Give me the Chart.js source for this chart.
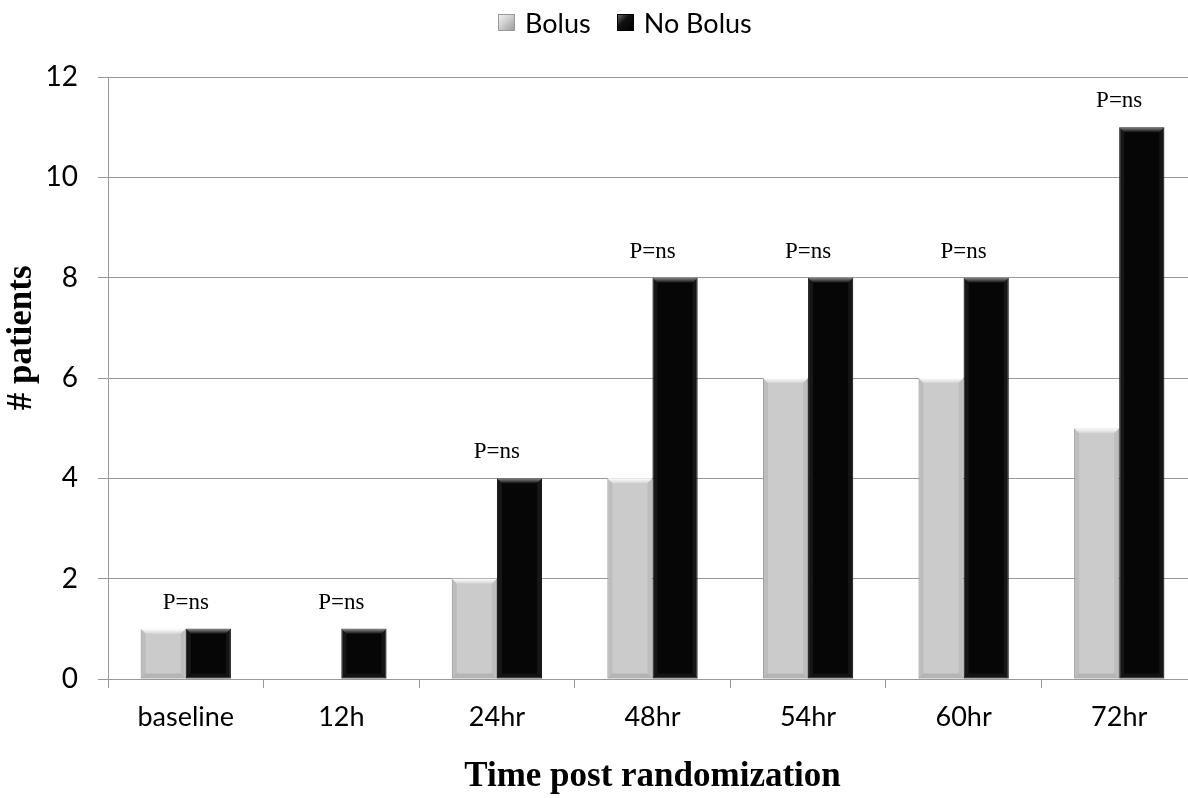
<!DOCTYPE html>
<html>
<head>
<meta charset="utf-8">
<script src="https://cdn.jsdelivr.net/npm/chart.js@4.4.1/dist/chart.umd.min.js"></script>
<style>
  html, body { margin:0; padding:0; background:#fff; overflow:hidden; }
  #wrap { position:relative; width:1200px; height:798px; }
  #legend { position:absolute; top:6px; left:498px; display:flex; align-items:center;
            font-family:Lato, "Open Sans", sans-serif; font-size:27px; color:#000; }
  .item { display:flex; align-items:center; margin-right:26px; }
  .box { width:17px; height:17px; margin-right:10px; box-sizing:border-box; }
  .box.bolus { background:linear-gradient(135deg,#f2f2f2 0%,#cfcfcf 45%,#9c9c9c 100%); border:1px solid #9a9a9a; }
  .box.nobolus { background:linear-gradient(135deg,#666 0%,#111 40%,#000 100%); border:1px solid #000; }
</style>
</head>
<body>
<div id="wrap">
  <div id="legend">
    <div class="item"><span class="box bolus"></span><span>Bolus</span></div>
    <div class="item"><span class="box nobolus"></span><span>No Bolus</span></div>
  </div>
  <canvas id="chart"></canvas>
</div>
<script>
// ========== Data ==========
const timepoints = ['baseline','12h','24hr','48hr','54hr','60hr','72hr'];
const bolus   = [1, 0, 2, 4, 6, 6, 5];
const noBolus = [1, 1, 4, 8, 8, 8, 11];
const pLabels = ['P=ns','P=ns','P=ns','P=ns','P=ns','P=ns','P=ns'];
const yTicks  = [0, 2, 4, 6, 8, 10, 12];
const yTitle  = '# patients';

const sansFont  = 'Lato, "Open Sans", sans-serif';
const serifFont = '"Liberation Serif", "Times New Roman", serif';

// ========== Plugins ==========
// bevel look on the bars (top highlight + soft side shading)
const bevelPlugin = {
  id:'bevel',
  afterDatasetsDraw(chart){
    const ctx = chart.ctx;
    chart.data.datasets.forEach((ds, di) => {
      const meta = chart.getDatasetMeta(di);
      const light = di === 0;
      meta.data.forEach(bar => {
        const h = bar.base - bar.y;
        if (h <= 1) return;
        const l = bar.x - bar.width/2, r = bar.x + bar.width/2, t = bar.y, b = bar.base;
        const d = 5;
        ctx.save();
        // top bevel
        const g = ctx.createLinearGradient(0, t, 0, t + d);
        g.addColorStop(0, light ? '#ffffff' : '#8a8a8a');
        g.addColorStop(1, light ? '#d4d4d4' : '#111111');
        ctx.fillStyle = g;
        ctx.beginPath();
        ctx.moveTo(l, t); ctx.lineTo(r, t); ctx.lineTo(r - d, t + d); ctx.lineTo(l + d, t + d); ctx.closePath();
        ctx.fill();
        // side shades
        ctx.fillStyle = light ? 'rgba(130,130,130,0.18)' : 'rgba(70,70,70,0.25)';
        ctx.beginPath();
        ctx.moveTo(l, t); ctx.lineTo(l + d, t + d); ctx.lineTo(l + d, b - d); ctx.lineTo(l, b); ctx.closePath();
        ctx.fill();
        ctx.beginPath();
        ctx.moveTo(r, t); ctx.lineTo(r - d, t + d); ctx.lineTo(r - d, b - d); ctx.lineTo(r, b); ctx.closePath();
        ctx.fill();
        // bottom bevel
        ctx.fillStyle = light ? 'rgba(110,110,110,0.25)' : 'rgba(50,50,50,0.3)';
        ctx.beginPath();
        ctx.moveTo(l, b); ctx.lineTo(r, b); ctx.lineTo(r - d, b - d); ctx.lineTo(l + d, b - d); ctx.closePath();
        ctx.fill();
        ctx.restore();
      });
    });
  }
};

// "P=ns" over each group, plus the rotated y title
const textPlugin = {
  id:'texts',
  afterDatasetsDraw(chart){
    const ctx = chart.ctx;
    const xs = chart.scales.x, ys = chart.scales.y;
    ctx.save();
    ctx.font = '23px ' + serifFont;
    ctx.fillStyle = '#000';
    ctx.textAlign = 'center';
    ctx.textBaseline = 'middle';
    pLabels.forEach((txt, i) => {
      const top = Math.max(bolus[i], noBolus[i]);
      ctx.fillText(txt, xs.getPixelForValue(i), ys.getPixelForValue(top) - 26);
    });
    // y title, sits a bit above the middle of the axis like the original
    ctx.font = 'bold 35px ' + serifFont;
    ctx.translate(22, ys.getPixelForValue(6.8));
    ctx.rotate(-Math.PI/2);
    ctx.fillText(yTitle, 0, 0);
    ctx.restore();
  }
};

// ========== Chart ==========
const ctx = document.getElementById('chart').getContext('2d');
const chart = new Chart(ctx, {
  type:'bar',
  data:{
    labels: timepoints,
    datasets:[
      { label:'Bolus', data:bolus, backgroundColor:'#cbcbcb', borderColor:'#a0a0a0',
        borderWidth: c => c.raw === 0 ? 0 : 1, borderSkipped:false,
        categoryPercentage:0.58, barPercentage:1 },
      { label:'No Bolus', data:noBolus, backgroundColor:'#060606', borderColor:'#000',
        borderWidth: c => c.raw === 0 ? 0 : 1, borderSkipped:false,
        categoryPercentage:0.58, barPercentage:1 }
    ]
  },
  options:{
    responsive:true, maintainAspectRatio:false, animation:false,
    layout:{ padding:{ top:77, right:3, bottom:0, left:0 } },
    plugins:{ legend:{ display:false }, tooltip:{ enabled:false } },
    scales:{
      x:{
        grid:{ drawOnChartArea:false, drawTicks:true, tickLength:9, color:'#999', offset:true },
        border:{ display:true, color:'#999', width:1 },
        ticks:{ color:'#000', font:{ family:sansFont, size:27 }, padding:13 },
        title:{ display:true, text:'Time post randomization', color:'#000',
                font:{ family:serifFont, size:35, weight:'bold' }, padding:{ top:0, bottom:0 } },
        afterFit(scale){ scale.height = 119; }
      },
      y:{
        min:0, max:12,
        afterBuildTicks(scale){ scale.ticks = yTicks.map(v => ({ value:v })); },
        grid:{ color:'#999', lineWidth:1, tickLength:10, drawTicks:true },
        border:{ display:true, color:'#999', width:1 },
        ticks:{ color:'#000', font:{ family:sansFont, size:28 }, padding:20 },
        afterFit(scale){ scale.width = 108; }
      }
    }
  },
  plugins:[bevelPlugin, textPlugin]
});
</script>
</body>
</html>
